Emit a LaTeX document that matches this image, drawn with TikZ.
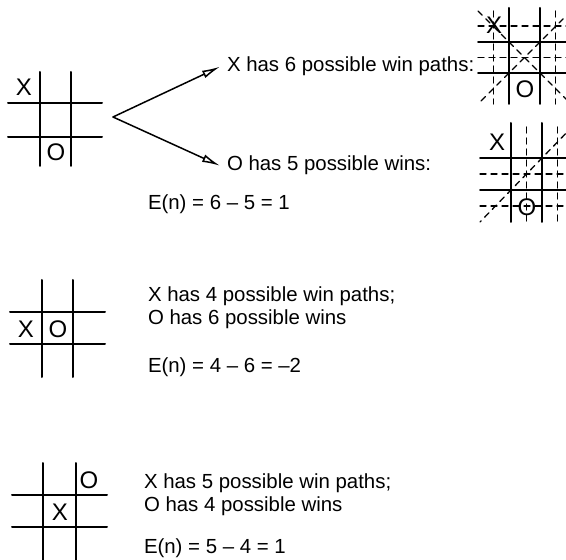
\documentclass[tikz,border=0pt]{standalone}
\usepackage{fontspec}
\setmainfont{Liberation Sans}
\usetikzlibrary{arrows.meta}

\begin{document}
\begin{tikzpicture}[x=0.5pt, y=-0.5pt, line width=1pt, line cap=round,
    piece/.style={font=\fontsize{12}{12}\selectfont, inner sep=0pt},
    txt/.style={font=\fontsize{10.2}{12}\selectfont, anchor=base west, inner sep=0pt},
    winline/.style={line width=0.65pt, dash pattern=on 3pt off 2.5pt}]
      \useasboundingbox (0,0) rectangle (566,560);
      \clip (0,0) rectangle (566,560);
      % first position
      \draw (40,72) -- (40,166);
      \draw (71,72) -- (71,166);
      \draw (8,103) -- (102,103);
      \draw (8,137) -- (102,137);
      \node[piece] (pax) at (24,87) {X};
      \node[piece] (pao) at (56,152) {O};
      \coordinate (fork) at (113,117);
      \node[txt] (xwin) at (226,72) {X has 6 possible win paths:};
      \node[txt] (owin) at (226,171) {O has 5 possible wins:};
      \node[txt] (evala) at (147,210) {E(n) = 6 -- 5 = 1};
      \draw[line width=0.75pt, -{Latex[open,length=9pt,width=4pt]}] (fork) -- ([xshift=-3pt]xwin.west);
      \draw[line width=0.75pt, -{Latex[open,length=9pt,width=4pt]}] (fork) -- ([xshift=-3pt]owin.west);
      % win paths of X
      \draw (509,8) -- (509,104);
      \draw (540,8) -- (540,104);
      \draw (478,42) -- (575,42);
      \draw (478,73) -- (575,73);
      \node[piece] (wxx) at (494,25) {X};
      \node[piece] (wxo) at (525,89) {O};
      \draw[winline] (478,26) -- (575,26);
      \draw[winline] (478,57.5) -- (575,57.5);
      \draw[winline] (493.5,11) -- (493.5,104);
      \draw[winline] (555.5,11) -- (555.5,104);
      \draw[winline] (478,11) -- (571,104);
      \draw[winline] (571,11) -- (478,104);
      % win paths of O
      \draw (511,123) -- (511,222);
      \draw (542,123) -- (542,222);
      \draw (480,158) -- (575,158);
      \draw (480,190) -- (575,190);
      \node[piece] (wox) at (497,142) {X};
      \node[piece] (woo) at (527,207) {O};
      \draw[winline] (526.5,127) -- (526.5,222);
      \draw[winline] (557.5,127) -- (557.5,222);
      \draw[winline] (480,174) -- (575,174);
      \draw[winline] (480,206) -- (575,206);
      \draw[winline] (573,126) -- (480,222);
      % second position
      \draw (42,280) -- (42,377);
      \draw (73,280) -- (73,377);
      \draw (10,312) -- (105,312);
      \draw (10,344) -- (105,344);
      \node[piece] (pbx) at (26,329) {X};
      \node[piece] (pbo) at (58,329) {O};
      \node[txt] (xmid) at (147,302) {X has 4 possible win paths;};
      \node[txt] (omid) at (147,325) {O has 6 possible wins};
      \node[txt] (evalb) at (147,372) {E(n) = 4 -- 6 = --2};
      % third position
      \draw (43,463) -- (43,562);
      \draw (76,463) -- (76,562);
      \draw (12,495) -- (107,495);
      \draw (12,527) -- (107,527);
      \node[piece] (pco) at (89,480) {O};
      \node[piece] (pcx) at (60,512) {X};
      \node[txt] (xlow) at (143,488) {X has 5 possible win paths;};
      \node[txt] (olow) at (143,511) {O has 4 possible wins};
      \node[txt] (evalc) at (143,553) {E(n) = 5 -- 4 = 1};
\end{tikzpicture}
\end{document}
